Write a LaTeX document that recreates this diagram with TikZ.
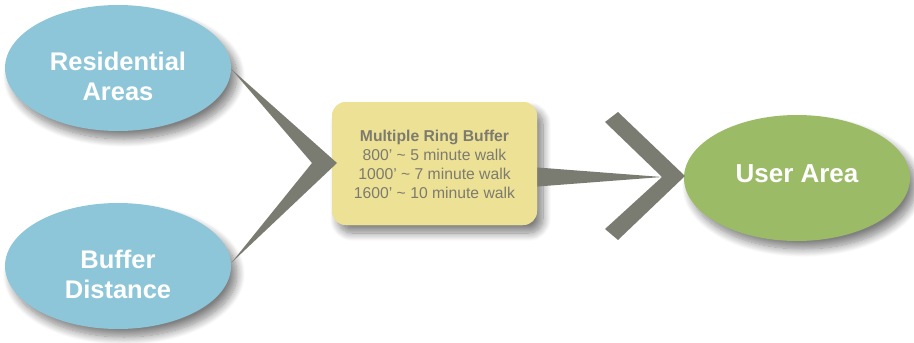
\documentclass[tikz,border=0pt]{standalone}
\usepackage{fontspec}
\setmainfont{Liberation Sans}
\usetikzlibrary{shapes.geometric,shadows.blur}
\definecolor{bluefill}{HTML}{8EC6D9}
\definecolor{greenfill}{HTML}{9BBB67}
\definecolor{yellowfill}{HTML}{EDE196}
\definecolor{connfill}{HTML}{7B7C71}
\definecolor{boxtext}{HTML}{7C7B6E}
\begin{document}
\begin{tikzpicture}[x=1pt,y=-1pt,
  softshadow/.style={blur shadow={shadow xshift=6pt,shadow yshift=-8pt,shadow blur radius=8pt,shadow blur steps=12,shadow opacity=50}},
  bubble/.style={ellipse,minimum width=226pt,minimum height=126pt,inner sep=0pt,softshadow},
  bubbletext/.style={text=white,font=\bfseries\fontsize{25.5}{30}\selectfont,align=center},
  rulebox/.style={rectangle,rounded corners=14pt,minimum width=205pt,minimum height=123pt,inner sep=0pt,fill=yellowfill,softshadow},
  ruletext/.style={text=boxtext,font=\fontsize{15.7}{19}\selectfont,align=center},
  conn/.style={fill=connfill,draw=none}]
\useasboundingbox (0,0) rectangle (914,343);
% bar behind the box
\coordinate (rtip) at (662,177);
\node[rulebox] (mrb) at (434.5,163.5) {};
\fill[conn] ([shift={(-6,3.5)}]mrb.east) -- (rtip) -- ([shift={(-6,23.5)}]mrb.east) -- cycle;
\node[rectangle,rounded corners=14pt,minimum width=205pt,minimum height=123pt,inner sep=0pt,fill=yellowfill] at (mrb) {};
\node[ruletext] (mrbtext) at (434.5,164) {\textbf{Multiple Ring Buffer}\\800’ \textasciitilde{} 5 minute walk\\1000’ \textasciitilde{} 7 minute walk\\1600’ \textasciitilde{} 10 minute walk};
% ellipses
\node[bubble,fill=bluefill] (ra) at (118,68) {};
\node[bubble,fill=bluefill] (bd) at (118,266) {};
\node[bubble,fill=greenfill] (ua) at (797,178) {};
\node[bubbletext] (ratext) at (118,76) {Residential\\Areas};
\node[bubbletext] (bdtext) at (118,274) {Buffer\\Distance};
\node[bubbletext,font=\bfseries\fontsize{26}{30}\selectfont] (uatext) at (797,174) {User Area};
% left chevron
\coordinate (lv) at (337,163);
\coordinate (lvi) at (312,163);
\fill[conn] ([shift={(0,1)}]ra.east) -- (lv) -- ([shift={(0,-3)}]bd.east) -- (lvi) -- cycle;
% right chevron
\coordinate (rv) at (685,176);
\fill[conn] (605,122) -- (618,112) -- (rv) -- (618,240) -- (605,229) -- (rtip) -- cycle;
\end{tikzpicture}
\end{document}
